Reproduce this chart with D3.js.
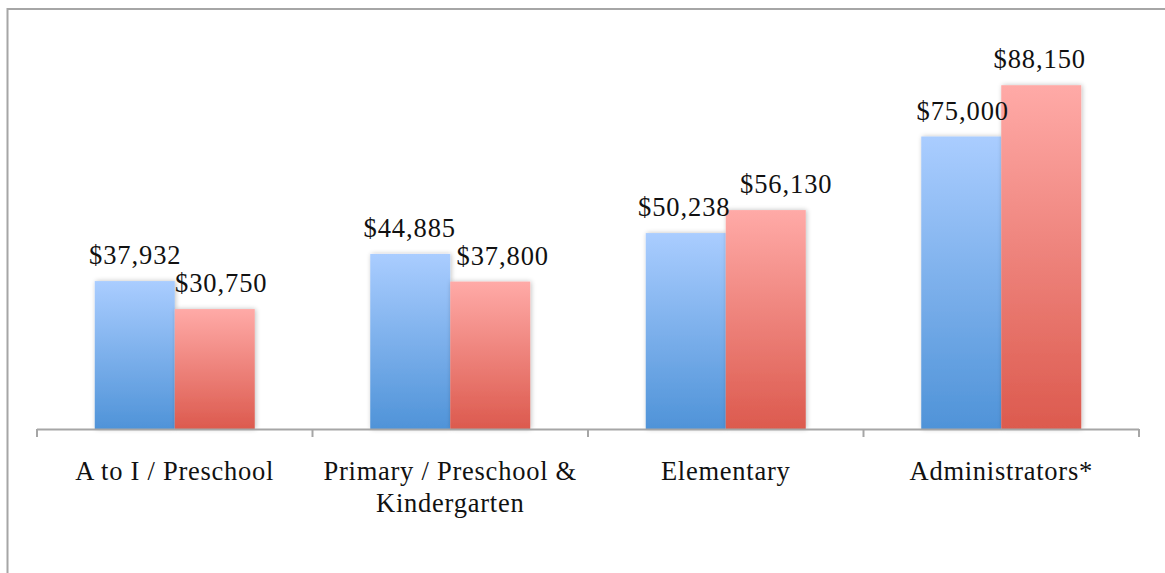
<!DOCTYPE html>
<html>
<head>
<meta charset="utf-8">
<script src="https://cdn.jsdelivr.net/npm/d3@7"></script>
<style>
  html, body { margin: 0; padding: 0; background: #fff; }
  svg { display: block; }
  text { font-family: "Liberation Serif", "DejaVu Serif", serif; fill: #111; }
</style>
</head>
<body>
<svg id="chart" width="1165" height="573"></svg>
<script>
// Average salaries by position; two series per category
const categories = ["A to I / Preschool", "Primary / Preschool & Kindergarten", "Elementary", "Administrators*"];
const categoryLines = [["A to I / Preschool"], ["Primary / Preschool &", "Kindergarten"], ["Elementary"], ["Administrators*"]];
const seriesA = [37932, 44885, 50238, 75000];
const seriesB = [30750, 37800, 56130, 88150];
const seriesNames = ["seriesA", "seriesB"];

const W = 1165, H = 573;
const svg = d3.select("#chart");

// horizontal nudges (px) that keep the second series' value labels clear of the first
const labelNudgeB = [6, 12, 20, -2];
const labelNudgeA = [0, -1, -2, 1];

// outer frame
svg.append("rect")
  .attr("x", 7.5).attr("y", 9)
  .attr("width", 1200).attr("height", 700)
  .attr("fill", "none").attr("stroke", "#a6a6a6").attr("stroke-width", 2);

const plot = { left: 37, right: 1139, base: 429 };

const x = d3.scaleBand().domain(categories).range([plot.left, plot.right]);
const xs = d3.scaleBand().domain(seriesNames).range([0, 160]);
const y = d3.scaleLinear().domain([0, 110000]).range([plot.base, 0]);

const defs = svg.append("defs");
const gradBlue = defs.append("linearGradient").attr("id", "gBlue").attr("x1", 0).attr("y1", 0).attr("x2", 0).attr("y2", 1);
gradBlue.append("stop").attr("offset", "0%").attr("stop-color", "#aacdff");
gradBlue.append("stop").attr("offset", "100%").attr("stop-color", "#4f93d8");
const gradRed = defs.append("linearGradient").attr("id", "gRed").attr("x1", 0).attr("y1", 0).attr("x2", 0).attr("y2", 1);
gradRed.append("stop").attr("offset", "0%").attr("stop-color", "#ffaaa7");
gradRed.append("stop").attr("offset", "100%").attr("stop-color", "#dc5a4e");

const shadow = defs.append("filter").attr("id", "shadow").attr("x", "-20%").attr("y", "-20%").attr("width", "140%").attr("height", "140%");
shadow.append("feGaussianBlur").attr("in", "SourceAlpha").attr("stdDeviation", 2.5).attr("result", "b");
shadow.append("feOffset").attr("in", "b").attr("dx", 1).attr("dy", 0).attr("result", "o");
shadow.append("feComponentTransfer").attr("in", "o").attr("result", "s")
  .append("feFuncA").attr("type", "linear").attr("slope", 0.25);
const merge = shadow.append("feMerge");
merge.append("feMergeNode").attr("in", "s");
merge.append("feMergeNode").attr("in", "SourceGraphic");

const rows = categories.map((c, i) => ({ cat: c, i, vals: [seriesA[i], seriesB[i]] }));
const fills = ["url(#gBlue)", "url(#gRed)"];

const groups = svg.selectAll("g.grp").data(rows).join("g")
  .attr("class", "grp")
  .attr("transform", d => `translate(${x(d.cat) + x.bandwidth() / 2 - 80},0)`);

groups.selectAll("rect.bar").data(d => d.vals.map((v, j) => ({ v, j }))).join("rect")
  .attr("class", "bar")
  .attr("x", d => xs(seriesNames[d.j]))
  .attr("y", d => y(d.v))
  .attr("width", xs.bandwidth())
  .attr("height", d => plot.base - y(d.v))
  .attr("fill", d => fills[d.j])
  .attr("filter", "url(#shadow)");

const fmt = d3.format("$,");
groups.selectAll("text.val").data(d => d.vals.map((v, j) => ({ v, j, i: d.i }))).join("text")
  .attr("class", "val")
  .attr("x", d => xs(seriesNames[d.j]) + xs.bandwidth() / 2 + (d.j === 1 ? labelNudgeB[d.i] : labelNudgeA[d.i]) + 0.5)
  .attr("y", d => y(d.v) - 17)
  .attr("text-anchor", "middle")
  .attr("font-size", 26.5)
  .attr("letter-spacing", 0.9)
  .text(d => fmt(d.v));

// category axis
const axis = svg.append("g");
axis.append("line")
  .attr("x1", plot.left).attr("x2", plot.right)
  .attr("y1", plot.base + 0.5).attr("y2", plot.base + 0.5)
  .attr("stroke", "#a6a6a6").attr("stroke-width", 2);
const tickXs = categories.map(c => x(c)).concat([plot.right]);
axis.selectAll("line.tick").data(tickXs).join("line")
  .attr("class", "tick")
  .attr("x1", d => d).attr("x2", d => d)
  .attr("y1", plot.base).attr("y2", plot.base + 8)
  .attr("stroke", "#a6a6a6").attr("stroke-width", 2);

axis.selectAll("text.cat").data(categories).join("text")
  .attr("class", "cat")
  .attr("x", d => x(d) + x.bandwidth() / 2)
  .attr("y", 480)
  .attr("text-anchor", "middle")
  .attr("font-size", 26.5)
  .attr("letter-spacing", 0.75)
  .each(function (d, i) {
    const t = d3.select(this);
    categoryLines[i].forEach((line, k) => {
      t.append("tspan").attr("x", x(d) + x.bandwidth() / 2).attr("dy", k === 0 ? 0 : 32).text(line);
    });
  });
</script>
</body>
</html>
